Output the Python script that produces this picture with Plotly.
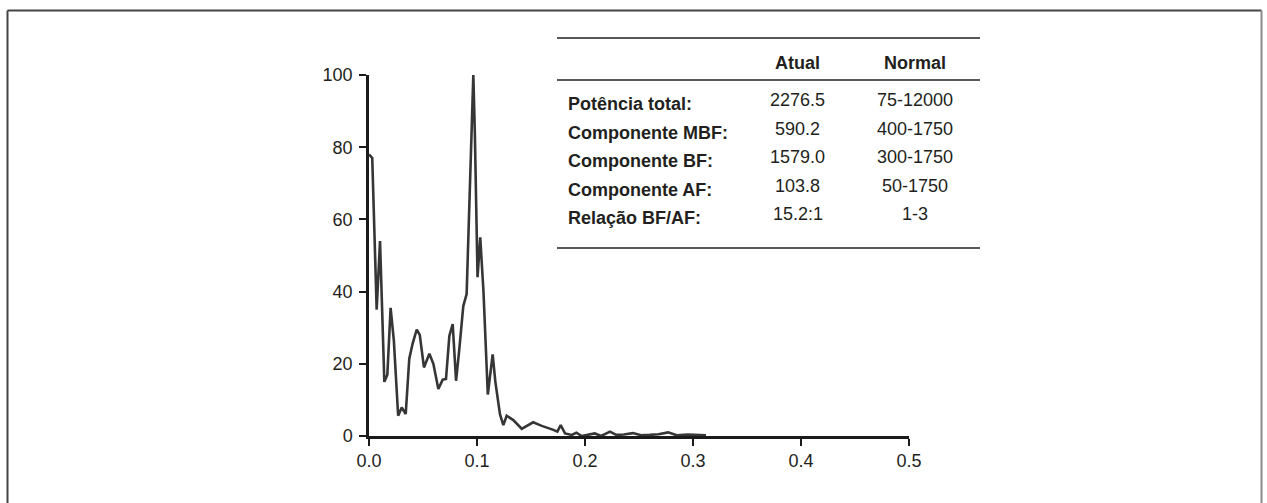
import plotly.graph_objects as go

# ---- data ----
freq = [0.000, 0.003, 0.0071, 0.0102, 0.0142, 0.017, 0.020, 0.023, 0.027, 0.0303,
        0.034, 0.0373, 0.0404, 0.0442, 0.047, 0.0509, 0.0559, 0.0596, 0.0642, 0.0682,
        0.0713, 0.0744, 0.0775, 0.0806, 0.0836, 0.0873, 0.0904, 0.092, 0.0945, 0.0966,
        0.098, 0.1005, 0.103, 0.106, 0.110, 0.1145, 0.117, 0.1213, 0.1244, 0.1275,
        0.1336, 0.1414, 0.152, 0.160, 0.1707, 0.1744, 0.1775, 0.1815, 0.1877, 0.192,
        0.197, 0.2046, 0.209, 0.215, 0.2231, 0.229, 0.236, 0.2444, 0.252, 0.260,
        0.268, 0.277, 0.285, 0.295, 0.305, 0.312]
power = [78, 77, 35, 54, 15, 17, 35.5, 26.5, 5.6, 7.9,
         6.1, 21.4, 25.6, 29.5, 28, 19, 22.8, 20, 13, 15.6,
         15.8, 27.7, 31, 15.3, 24, 36, 39.3, 55, 85, 100,
         84, 44, 55, 40, 11.5, 22.6, 15, 6, 3, 5.6,
         4.4, 2, 3.8, 2.8, 1.7, 1.2, 3, 0.7, 0.3, 0.9,
         0, 0.5, 0.7, 0, 1.2, 0.3, 0.4, 0.8, 0.2, 0.3,
         0.5, 1.0, 0.2, 0.4, 0.2, 0.2]
assert len(freq) == len(power)

x_ticks = [0.0, 0.1, 0.2, 0.3, 0.4, 0.5]
y_ticks = [0, 20, 40, 60, 80, 100]

table_header = ["Atual", "Normal"]
table_labels = ["Potência total:", "Componente MBF:", "Componente BF:",
                "Componente AF:", "Relação BF/AF:"]
table_atual = ["2276.5", "590.2", "1579.0", "103.8", "15.2:1"]
table_normal = ["75-12000", "400-1750", "300-1750", "50-1750", "1-3"]

# ---- layout geometry (pixels) ----
W, H = 1267, 503
L, R, T, B = 369, 909, 75, 436
pw, ph = R - L, B - T


def px(x):
    return (x - L) / pw


def py(y):
    return (B - y) / ph


FONT = "Liberation Sans, Arial, sans-serif"
TXT = "#231f20"
FS = 18

fig = go.Figure()
fig.add_trace(go.Scatter(x=freq, y=power, mode="lines",
                         line=dict(color="#363636", width=2.6),
                         showlegend=False, hoverinfo="skip"))

shapes = []
# outer frame (top, left, right)
shapes.append(dict(type="line", xref="paper", yref="paper",
                   x0=px(7.5), x1=px(1261.5), y0=py(10.5), y1=py(10.5),
                   line=dict(color="#444444", width=2)))
shapes.append(dict(type="line", xref="paper", yref="paper",
                   x0=px(7.5), x1=px(7.5), y0=py(10.5), y1=py(520),
                   line=dict(color="#444444", width=2)))
shapes.append(dict(type="line", xref="paper", yref="paper",
                   x0=px(1261.5), x1=px(1261.5), y0=py(10.5), y1=py(520),
                   line=dict(color="#8a8a8a", width=2)))
# table rules
for yy in (38, 80, 248):
    shapes.append(dict(type="line", xref="paper", yref="paper",
                       x0=px(557), x1=px(980), y0=py(yy), y1=py(yy),
                       line=dict(color="#231f20", width=1.5)))

annotations = []
col_atual, col_normal = 797.5, 915
for txt, cx in zip(table_header, (col_atual, col_normal)):
    annotations.append(dict(x=px(cx), y=py(63), xref="paper", yref="paper",
                            text="<b>%s</b>" % txt, showarrow=False,
                            xanchor="center", yanchor="middle",
                            font=dict(family=FONT, size=FS, color=TXT)))
row_y = [104, 132.5, 161, 189.5, 218]
for lab, a, n, yy in zip(table_labels, table_atual, table_normal, row_y):
    annotations.append(dict(x=px(566), y=py(yy), xref="paper", yref="paper",
                            text="<b>%s</b>" % lab, showarrow=False,
                            xanchor="left", yanchor="middle",
                            font=dict(family=FONT, size=FS, color=TXT)))
    annotations.append(dict(x=px(col_atual), y=py(yy - 4), xref="paper", yref="paper",
                            text=a, showarrow=False,
                            xanchor="center", yanchor="middle",
                            font=dict(family=FONT, size=FS, color=TXT)))
    annotations.append(dict(x=px(col_normal), y=py(yy - 4), xref="paper", yref="paper",
                            text=n, showarrow=False,
                            xanchor="center", yanchor="middle",
                            font=dict(family=FONT, size=FS, color=TXT)))

fig.update_layout(
    width=W, height=H,
    margin=dict(l=L, r=W - R, t=T, b=H - B, pad=0),
    paper_bgcolor="white", plot_bgcolor="white",
    shapes=shapes, annotations=annotations,
    font=dict(family=FONT, size=FS, color=TXT),
)
fig.update_xaxes(range=[0, 0.5], tickvals=x_ticks, ticktext=["%.1f" % v for v in x_ticks],
                 showgrid=False, zeroline=False, showline=True, linecolor="#1a1a1a",
                 linewidth=2.5, ticks="outside", ticklen=7, tickwidth=2, tickcolor="#1a1a1a",
                 tickfont=dict(family=FONT, size=FS, color=TXT), fixedrange=True)
fig.update_yaxes(range=[0, 100], tickvals=y_ticks, ticktext=[str(v) for v in y_ticks],
                 showgrid=False, zeroline=False, showline=True, linecolor="#1a1a1a",
                 linewidth=2.5, ticks="outside", ticklen=7, tickwidth=2, tickcolor="#1a1a1a",
                 ticklabelstandoff=3,
                 tickfont=dict(family=FONT, size=FS, color=TXT), fixedrange=True)

fig.write_html("out.html")
